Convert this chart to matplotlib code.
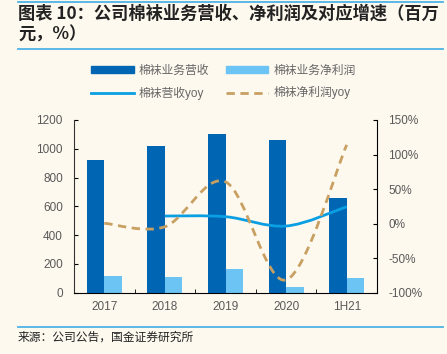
import numpy as np
import matplotlib.pyplot as plt
from matplotlib.path import Path
from matplotlib.patches import PathPatch, Patch
from matplotlib.lines import Line2D

plt.rcParams['font.family'] = ['Liberation Sans', 'Noto Sans CJK SC', 'DejaVu Sans']

# 数据
years = ['2017', '2018', '2019', '2020', '1H21']
revenue = [925, 1020, 1100, 1060, 660]
profit = [115, 107, 165, 40, 105]
revenue_yoy = [None, 11, 10, -3.5, 24.5]
profit_yoy = [0.5, -4.5, 60.5, -81.5, 114]

BG = '#FEF9EF'
C_REV = '#0066B3'
C_PRO = '#6CC4F4'
C_REV_YOY = '#0A9FE3'
C_PRO_YOY = '#C8A062'
C_LINE = '#4DB3E6'
GREY = '#595959'


def smooth_path(xs, ys):
    # Catmull-Rom -> Bezier, 类似Excel平滑线
    pts = np.column_stack([xs, ys]).astype(float)
    verts = [pts[0]]
    codes = [Path.MOVETO]
    n = len(pts)
    for i in range(n - 1):
        p0 = pts[i - 1] if i > 0 else pts[i]
        p1 = pts[i]
        p2 = pts[i + 1]
        p3 = pts[i + 2] if i + 2 < n else pts[i + 1]
        c1 = p1 + (p2 - p0) / 6
        c2 = p2 - (p3 - p1) / 6
        verts += [c1, c2, p2]
        codes += [Path.CURVE4] * 3
    return Path(verts, codes)


fig = plt.figure(figsize=(4.47, 3.54), dpi=100, facecolor=BG)
ax = fig.add_axes([74 / 447, 1 - 292.7 / 354, 303 / 447, 172.7 / 354])
ax.set_facecolor(BG)

x = np.arange(len(years))
w = 0.29
ax.bar(x - w / 2, revenue, w, color=C_REV, zorder=2)
ax.bar(x + w / 2, profit, w, color=C_PRO, zorder=2)
ax.set_ylim(0, 1200)
ax.set_xlim(-0.5, len(years) - 0.5)
ax.set_yticks(range(0, 1201, 200))
ax.set_xticks(x)
ax.set_xticklabels(years)
ax.set_xticks(np.arange(-0.5, len(years)), minor=True)
ax.tick_params(axis='x', which='major', length=0, colors=GREY, labelsize=8.5, pad=6)
ax.tick_params(axis='x', which='minor', length=3, direction='in', color='black')
ax.tick_params(axis='y', direction='in', length=3, colors=GREY, labelsize=8.5, pad=8)
ax.tick_params(axis='y', color='black')
for s in ['top', 'right']:
    ax.spines[s].set_visible(False)
ax.spines['left'].set_color('#333333')
ax.spines['bottom'].set_color('black')

ax2 = ax.twinx()
ax2.set_ylim(-100, 150)
ax2.set_yticks(range(-100, 151, 50))
ax2.set_yticklabels([f'{v}%' for v in range(-100, 151, 50)])
ax2.tick_params(axis='y', direction='in', length=3, colors=GREY, labelsize=8.5, pad=8)
ax2.tick_params(axis='y', color='black')
for s in ['top', 'left', 'bottom']:
    ax2.spines[s].set_visible(False)
ax2.spines['right'].set_color('black')

rx = [i for i, v in enumerate(revenue_yoy) if v is not None]
ry = [v for v in revenue_yoy if v is not None]
ax2.add_patch(PathPatch(smooth_path(rx, ry), fill=False, edgecolor=C_REV_YOY, lw=2, zorder=3))
ax2.add_patch(PathPatch(smooth_path(x, profit_yoy), fill=False, edgecolor=C_PRO_YOY, lw=2,
                        linestyle=(0, (3, 2)), zorder=3))

# 图例
handles = [Patch(color=C_REV), Line2D([], [], color=C_REV_YOY, lw=2),
           Patch(color=C_PRO), Line2D([], [], color=C_PRO_YOY, lw=2, linestyle=(0, (3, 2)))]
labels = ['棉袜业务营收', '棉袜营收yoy', '棉袜业务净利润', '棉袜净利润yoy']
leg = fig.legend(handles, labels, ncol=2, loc='center', bbox_to_anchor=(0.5, 1 - 82 / 354),
                 frameon=False, fontsize=8.5, handlelength=3.6, handleheight=0.5,
                 columnspacing=1.4, handletextpad=0.45, labelspacing=0.85)
for t in leg.get_texts():
    t.set_color('#666666')

# 标题和来源
fig.text(18 / 447, 1 - 14 / 354, '图表 10：公司棉袜业务营收、净利润及对应增速（百万',
         fontsize=12.4, fontweight='bold', va='center', ha='left', color='#222222',
         family=['Noto Sans CJK SC', 'DejaVu Sans'])
fig.text(18 / 447, 1 - 35 / 354, '元，%）', fontsize=12.4, fontweight='bold', va='center',
         ha='left', color='#222222', family=['Noto Sans CJK SC', 'DejaVu Sans'])
fig.text(18 / 447, 1 - 337 / 354, '来源：公司公告，国金证券研究所', fontsize=8.5, va='center',
         ha='left', color='#222222', family=['Noto Sans CJK SC', 'DejaVu Sans'])
for yy in [2, 49, 327]:
    fig.add_artist(Line2D([18 / 447, 443 / 447], [1 - yy / 354] * 2, color=C_LINE, lw=1.3))

fig.savefig('out.png', dpi=100, facecolor=BG)
